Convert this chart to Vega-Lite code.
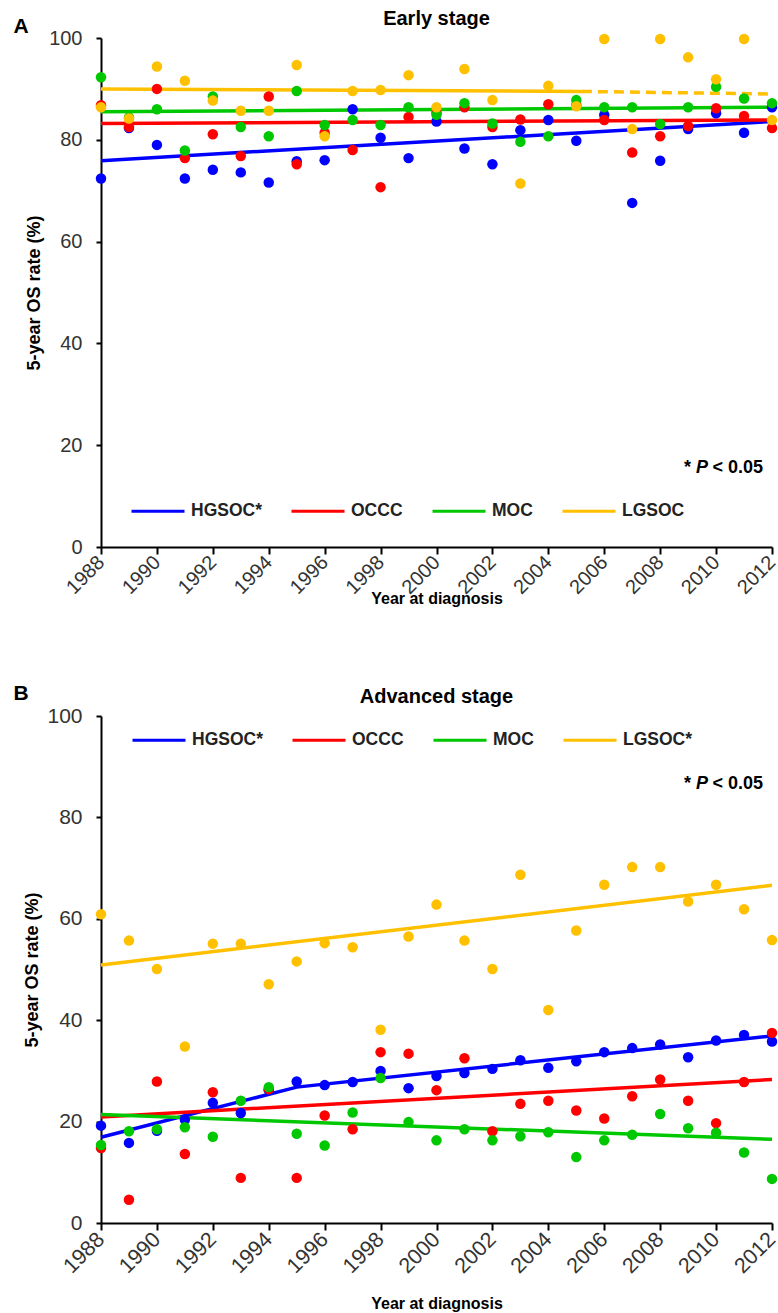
{
  "$schema": "https://vega.github.io/schema/vega-lite/v6.json",
  "background": "white",
  "padding": {"left": 13, "top": 9, "right": 0, "bottom": 0},
  "spacing": 75,
  "config": {
    "font": "Liberation Sans",
    "view": {"stroke": null},
    "axis": {
      "grid": false,
      "domainColor": "black",
      "domainWidth": 2,
      "tickColor": "black",
      "tickWidth": 2,
      "labelColor": "#333",
      "labelFont": "Liberation Sans",
      "labelFontSize": 20,
      "titleFont": "Liberation Sans",
      "titleFontSize": 18,
      "titleFontWeight": "bold",
      "titleColor": "black"
    },
    "title": {"font": "Liberation Sans", "fontSize": 20, "fontWeight": "bold", "color": "black"},
    "legend": {
      "orient": "none",
      "direction": "horizontal",
      "title": null,
      "symbolType": "stroke",
      "symbolSize": 2809,
      "symbolStrokeWidth": 3,
      "labelFont": "Liberation Sans",
      "labelFontSize": 17.5,
      "labelFontWeight": "bold",
      "labelColor": "#222",
      "columnPadding": 23,
      "labelOffset": 5,
      "padding": 0
    }
  },
  "datasets": {
    "ptsA": [
      {"year": 1988, "type": "HGSOC*", "os": 72.4}, {"year": 1989, "type": "HGSOC*", "os": 82.3}, {"year": 1990, "type": "HGSOC*", "os": 79.0}, {"year": 1991, "type": "HGSOC*", "os": 72.4}, {"year": 1992, "type": "HGSOC*", "os": 74.1}, {"year": 1993, "type": "HGSOC*", "os": 73.6}, {"year": 1994, "type": "HGSOC*", "os": 71.6}, {"year": 1995, "type": "HGSOC*", "os": 75.8}, {"year": 1996, "type": "HGSOC*", "os": 76.0}, {"year": 1997, "type": "HGSOC*", "os": 86.0}, {"year": 1998, "type": "HGSOC*", "os": 80.4}, {"year": 1999, "type": "HGSOC*", "os": 76.4}, {"year": 2000, "type": "HGSOC*", "os": 83.6}, {"year": 2001, "type": "HGSOC*", "os": 78.3}, {"year": 2002, "type": "HGSOC*", "os": 75.2}, {"year": 2003, "type": "HGSOC*", "os": 81.9}, {"year": 2004, "type": "HGSOC*", "os": 83.9}, {"year": 2005, "type": "HGSOC*", "os": 79.8}, {"year": 2006, "type": "HGSOC*", "os": 84.9}, {"year": 2007, "type": "HGSOC*", "os": 67.6}, {"year": 2008, "type": "HGSOC*", "os": 75.9}, {"year": 2009, "type": "HGSOC*", "os": 82.1}, {"year": 2010, "type": "HGSOC*", "os": 85.2}, {"year": 2011, "type": "HGSOC*", "os": 81.4}, {"year": 2012, "type": "HGSOC*", "os": 86.4},
      {"year": 1988, "type": "OCCC", "os": 86.8}, {"year": 1989, "type": "OCCC", "os": 82.5}, {"year": 1990, "type": "OCCC", "os": 90.0}, {"year": 1991, "type": "OCCC", "os": 76.4}, {"year": 1992, "type": "OCCC", "os": 81.1}, {"year": 1993, "type": "OCCC", "os": 76.8}, {"year": 1994, "type": "OCCC", "os": 88.5}, {"year": 1995, "type": "OCCC", "os": 75.2}, {"year": 1996, "type": "OCCC", "os": 81.4}, {"year": 1997, "type": "OCCC", "os": 78.0}, {"year": 1998, "type": "OCCC", "os": 70.7}, {"year": 1999, "type": "OCCC", "os": 84.5}, {"year": 2000, "type": "OCCC", "os": 85.3}, {"year": 2001, "type": "OCCC", "os": 86.4}, {"year": 2002, "type": "OCCC", "os": 82.5}, {"year": 2003, "type": "OCCC", "os": 84.0}, {"year": 2004, "type": "OCCC", "os": 87.0}, {"year": 2005, "type": "OCCC", "os": 86.8}, {"year": 2006, "type": "OCCC", "os": 83.9}, {"year": 2007, "type": "OCCC", "os": 77.5}, {"year": 2008, "type": "OCCC", "os": 80.7}, {"year": 2009, "type": "OCCC", "os": 82.7}, {"year": 2010, "type": "OCCC", "os": 86.2}, {"year": 2011, "type": "OCCC", "os": 84.7}, {"year": 2012, "type": "OCCC", "os": 82.3},
      {"year": 1988, "type": "MOC", "os": 92.3}, {"year": 1989, "type": "MOC", "os": 84.4}, {"year": 1990, "type": "MOC", "os": 86.0}, {"year": 1991, "type": "MOC", "os": 77.9}, {"year": 1992, "type": "MOC", "os": 88.5}, {"year": 1993, "type": "MOC", "os": 82.5}, {"year": 1994, "type": "MOC", "os": 80.7}, {"year": 1995, "type": "MOC", "os": 89.6}, {"year": 1996, "type": "MOC", "os": 82.9}, {"year": 1997, "type": "MOC", "os": 83.9}, {"year": 1998, "type": "MOC", "os": 82.9}, {"year": 1999, "type": "MOC", "os": 86.4}, {"year": 2000, "type": "MOC", "os": 84.9}, {"year": 2001, "type": "MOC", "os": 87.2}, {"year": 2002, "type": "MOC", "os": 83.2}, {"year": 2003, "type": "MOC", "os": 79.6}, {"year": 2004, "type": "MOC", "os": 80.7}, {"year": 2005, "type": "MOC", "os": 87.8}, {"year": 2006, "type": "MOC", "os": 86.4}, {"year": 2007, "type": "MOC", "os": 86.4}, {"year": 2008, "type": "MOC", "os": 83.1}, {"year": 2009, "type": "MOC", "os": 86.4}, {"year": 2010, "type": "MOC", "os": 90.4}, {"year": 2011, "type": "MOC", "os": 88.1}, {"year": 2012, "type": "MOC", "os": 87.2},
      {"year": 1988, "type": "LGSOC", "os": 86.4}, {"year": 1989, "type": "LGSOC", "os": 84.2}, {"year": 1990, "type": "LGSOC", "os": 94.4}, {"year": 1991, "type": "LGSOC", "os": 91.6}, {"year": 1992, "type": "LGSOC", "os": 87.7}, {"year": 1993, "type": "LGSOC", "os": 85.7}, {"year": 1994, "type": "LGSOC", "os": 85.7}, {"year": 1995, "type": "LGSOC", "os": 94.7}, {"year": 1996, "type": "LGSOC", "os": 80.7}, {"year": 1997, "type": "LGSOC", "os": 89.6}, {"year": 1998, "type": "LGSOC", "os": 89.8}, {"year": 1999, "type": "LGSOC", "os": 92.7}, {"year": 2000, "type": "LGSOC", "os": 86.4}, {"year": 2001, "type": "LGSOC", "os": 93.9}, {"year": 2002, "type": "LGSOC", "os": 87.8}, {"year": 2003, "type": "LGSOC", "os": 71.4}, {"year": 2004, "type": "LGSOC", "os": 90.6}, {"year": 2005, "type": "LGSOC", "os": 86.6}, {"year": 2006, "type": "LGSOC", "os": 99.8}, {"year": 2007, "type": "LGSOC", "os": 82.1}, {"year": 2008, "type": "LGSOC", "os": 99.8}, {"year": 2009, "type": "LGSOC", "os": 96.2}, {"year": 2010, "type": "LGSOC", "os": 91.9}, {"year": 2011, "type": "LGSOC", "os": 99.8}, {"year": 2012, "type": "LGSOC", "os": 83.9}
    ],
    "linesA": [
      {"year": 1988, "type": "HGSOC*", "os": 75.9}, {"year": 2012, "type": "HGSOC*", "os": 83.6},
      {"year": 1988, "type": "OCCC", "os": 83.2}, {"year": 2012, "type": "OCCC", "os": 83.9},
      {"year": 1988, "type": "MOC", "os": 85.5}, {"year": 2012, "type": "MOC", "os": 86.4},
      {"year": 1988, "type": "LGSOC", "os": 90.0}, {"year": 2005.2, "type": "LGSOC", "os": 89.5}
    ],
    "dashA": [
      {"year": 2005.2, "type": "LGSOC", "os": 89.5}, {"year": 2012, "type": "LGSOC", "os": 89.0}
    ],
    "ptsB": [
      {"year": 1988, "type": "HGSOC*", "os": 19.2}, {"year": 1989, "type": "HGSOC*", "os": 15.8}, {"year": 1990, "type": "HGSOC*", "os": 18.2}, {"year": 1991, "type": "HGSOC*", "os": 20.4}, {"year": 1992, "type": "HGSOC*", "os": 23.7}, {"year": 1993, "type": "HGSOC*", "os": 21.7}, {"year": 1994, "type": "HGSOC*", "os": 26.2}, {"year": 1995, "type": "HGSOC*", "os": 27.9}, {"year": 1996, "type": "HGSOC*", "os": 27.2}, {"year": 1997, "type": "HGSOC*", "os": 27.8}, {"year": 1998, "type": "HGSOC*", "os": 30.0}, {"year": 1999, "type": "HGSOC*", "os": 26.6}, {"year": 2000, "type": "HGSOC*", "os": 29.0}, {"year": 2001, "type": "HGSOC*", "os": 29.6}, {"year": 2002, "type": "HGSOC*", "os": 30.4}, {"year": 2003, "type": "HGSOC*", "os": 32.1}, {"year": 2004, "type": "HGSOC*", "os": 30.6}, {"year": 2005, "type": "HGSOC*", "os": 31.9}, {"year": 2006, "type": "HGSOC*", "os": 33.7}, {"year": 2007, "type": "HGSOC*", "os": 34.5}, {"year": 2008, "type": "HGSOC*", "os": 35.2}, {"year": 2009, "type": "HGSOC*", "os": 32.7}, {"year": 2010, "type": "HGSOC*", "os": 36.0}, {"year": 2011, "type": "HGSOC*", "os": 37.1}, {"year": 2012, "type": "HGSOC*", "os": 35.8},
      {"year": 1988, "type": "OCCC", "os": 14.8}, {"year": 1989, "type": "OCCC", "os": 4.6}, {"year": 1990, "type": "OCCC", "os": 27.9}, {"year": 1991, "type": "OCCC", "os": 13.6}, {"year": 1992, "type": "OCCC", "os": 25.8}, {"year": 1993, "type": "OCCC", "os": 8.9}, {"year": 1994, "type": "OCCC", "os": 26.4}, {"year": 1995, "type": "OCCC", "os": 8.9}, {"year": 1996, "type": "OCCC", "os": 21.2}, {"year": 1997, "type": "OCCC", "os": 18.5}, {"year": 1998, "type": "OCCC", "os": 33.7}, {"year": 1999, "type": "OCCC", "os": 33.4}, {"year": 2000, "type": "OCCC", "os": 26.2}, {"year": 2001, "type": "OCCC", "os": 32.5}, {"year": 2002, "type": "OCCC", "os": 18.1}, {"year": 2003, "type": "OCCC", "os": 23.5}, {"year": 2004, "type": "OCCC", "os": 24.1}, {"year": 2005, "type": "OCCC", "os": 22.2}, {"year": 2006, "type": "OCCC", "os": 20.6}, {"year": 2007, "type": "OCCC", "os": 25.0}, {"year": 2008, "type": "OCCC", "os": 28.3}, {"year": 2009, "type": "OCCC", "os": 24.1}, {"year": 2010, "type": "OCCC", "os": 19.7}, {"year": 2011, "type": "OCCC", "os": 27.8}, {"year": 2012, "type": "OCCC", "os": 37.5},
      {"year": 1988, "type": "MOC", "os": 15.4}, {"year": 1989, "type": "MOC", "os": 18.1}, {"year": 1990, "type": "MOC", "os": 18.5}, {"year": 1991, "type": "MOC", "os": 18.9}, {"year": 1992, "type": "MOC", "os": 17.0}, {"year": 1993, "type": "MOC", "os": 24.1}, {"year": 1994, "type": "MOC", "os": 26.8}, {"year": 1995, "type": "MOC", "os": 17.6}, {"year": 1996, "type": "MOC", "os": 15.3}, {"year": 1997, "type": "MOC", "os": 21.8}, {"year": 1998, "type": "MOC", "os": 28.6}, {"year": 1999, "type": "MOC", "os": 19.9}, {"year": 2000, "type": "MOC", "os": 16.3}, {"year": 2001, "type": "MOC", "os": 18.5}, {"year": 2002, "type": "MOC", "os": 16.3}, {"year": 2003, "type": "MOC", "os": 17.1}, {"year": 2004, "type": "MOC", "os": 17.9}, {"year": 2005, "type": "MOC", "os": 13.0}, {"year": 2006, "type": "MOC", "os": 16.3}, {"year": 2007, "type": "MOC", "os": 17.4}, {"year": 2008, "type": "MOC", "os": 21.5}, {"year": 2009, "type": "MOC", "os": 18.7}, {"year": 2010, "type": "MOC", "os": 17.8}, {"year": 2011, "type": "MOC", "os": 13.9}, {"year": 2012, "type": "MOC", "os": 8.7},
      {"year": 1988, "type": "LGSOC*", "os": 60.9}, {"year": 1989, "type": "LGSOC*", "os": 55.7}, {"year": 1990, "type": "LGSOC*", "os": 50.1}, {"year": 1991, "type": "LGSOC*", "os": 34.8}, {"year": 1992, "type": "LGSOC*", "os": 55.1}, {"year": 1993, "type": "LGSOC*", "os": 55.1}, {"year": 1994, "type": "LGSOC*", "os": 47.1}, {"year": 1995, "type": "LGSOC*", "os": 51.6}, {"year": 1996, "type": "LGSOC*", "os": 55.2}, {"year": 1997, "type": "LGSOC*", "os": 54.4}, {"year": 1998, "type": "LGSOC*", "os": 38.1}, {"year": 1999, "type": "LGSOC*", "os": 56.5}, {"year": 2000, "type": "LGSOC*", "os": 62.8}, {"year": 2001, "type": "LGSOC*", "os": 55.7}, {"year": 2002, "type": "LGSOC*", "os": 50.1}, {"year": 2003, "type": "LGSOC*", "os": 68.7}, {"year": 2004, "type": "LGSOC*", "os": 42.0}, {"year": 2005, "type": "LGSOC*", "os": 57.7}, {"year": 2006, "type": "LGSOC*", "os": 66.7}, {"year": 2007, "type": "LGSOC*", "os": 70.2}, {"year": 2008, "type": "LGSOC*", "os": 70.2}, {"year": 2009, "type": "LGSOC*", "os": 63.4}, {"year": 2010, "type": "LGSOC*", "os": 66.7}, {"year": 2011, "type": "LGSOC*", "os": 61.9}, {"year": 2012, "type": "LGSOC*", "os": 55.8}
    ],
    "linesB": [
      {"year": 1988, "type": "HGSOC*", "os": 16.9}, {"year": 1995, "type": "HGSOC*", "os": 26.8}, {"year": 2012, "type": "HGSOC*", "os": 36.9},
      {"year": 1988, "type": "OCCC", "os": 20.9}, {"year": 2012, "type": "OCCC", "os": 28.3},
      {"year": 1988, "type": "MOC", "os": 21.4}, {"year": 2012, "type": "MOC", "os": 16.5},
      {"year": 1988, "type": "LGSOC*", "os": 50.9}, {"year": 2012, "type": "LGSOC*", "os": 66.6}
    ]
  },
  "resolve": {"scale": {"color": "independent"}, "legend": {"color": "independent"}},
  "vconcat": [
    {
      "width": 671,
      "height": 509,
      "title": {"text": "Early stage", "offset": -13},
      "layer": [
        {
          "data": {"name": "linesA"},
          "mark": {"type": "line", "strokeWidth": 3.5},
          "encoding": {
            "x": {"field": "year", "type": "quantitative", "scale": {"domain": [1988, 2012], "nice": false, "zero": false},
                  "axis": {"title": "Year at diagnosis", "values": [1988, 1990, 1992, 1994, 1996, 1998, 2000, 2002, 2004, 2006, 2008, 2010, 2012], "format": "d", "labelAngle": -45, "labelAlign": "right", "labelBaseline": "middle", "tickSize": 7, "labelPadding": 5, "titlePadding": -7, "titleFontSize": 16, "labelFlush": false, "labelOverlap": false}},
            "y": {"field": "os", "type": "quantitative", "scale": {"domain": [0, 100], "nice": false},
                  "axis": {"title": "5-year OS rate (%)", "values": [0, 20, 40, 60, 80, 100], "tickSize": 5, "labelPadding": 14, "titlePadding": 5, "labelFlush": false}},
            "color": {"field": "type", "type": "nominal",
                      "scale": {"domain": ["HGSOC*", "OCCC", "MOC", "LGSOC"], "range": ["#0000FF", "#FF0000", "#00C800", "#FFC000"]},
                      "legend": {"legendX": 29, "legendY": 445}}
          }
        },
        {
          "data": {"name": "dashA"},
          "mark": {"type": "line", "strokeWidth": 3.5, "strokeDash": [10, 6]},
          "encoding": {
            "x": {"field": "year", "type": "quantitative"},
            "y": {"field": "os", "type": "quantitative"},
            "color": {"field": "type", "type": "nominal", "legend": null}
          }
        },
        {
          "data": {"name": "ptsA"},
          "mark": {"type": "circle", "size": 110, "opacity": 1},
          "encoding": {
            "x": {"field": "year", "type": "quantitative"},
            "y": {"field": "os", "type": "quantitative"},
            "color": {"field": "type", "type": "nominal", "legend": null}
          }
        },
        {
          "data": {"values": [{}]},
          "mark": {"type": "text", "text": "< 0.05", "align": "right", "baseline": "middle", "fontSize": 18, "fontWeight": "bold", "color": "black"},
          "encoding": {"x": {"datum": 2011.68, "type": "quantitative"}, "y": {"datum": 15.5, "type": "quantitative"}}
        },
        {
          "data": {"values": [{}]},
          "mark": {"type": "text", "text": "P", "align": "right", "baseline": "middle", "fontSize": 18, "fontWeight": "bold", "fontStyle": "italic", "color": "black", "dx": -55},
          "encoding": {"x": {"datum": 2011.68, "type": "quantitative"}, "y": {"datum": 15.5, "type": "quantitative"}}
        },
        {
          "data": {"values": [{}]},
          "mark": {"type": "text", "text": "*", "align": "right", "baseline": "middle", "fontSize": 18, "fontWeight": "bold", "color": "black", "dx": -72},
          "encoding": {"x": {"datum": 2011.68, "type": "quantitative"}, "y": {"datum": 15.5, "type": "quantitative"}}
        },
        {
          "data": {"values": [{}]},
          "mark": {"type": "text", "text": "A", "align": "center", "baseline": "middle", "fontSize": 21, "fontWeight": "bold", "color": "black"},
          "encoding": {"x": {"datum": 1985.14, "type": "quantitative"}, "y": {"datum": 102.1, "type": "quantitative"}}
        }
      ]
    },
    {
      "width": 671,
      "height": 507,
      "title": {"text": "Advanced stage", "offset": -24.6},
      "layer": [
        {
          "data": {"name": "linesB"},
          "mark": {"type": "line", "strokeWidth": 3.5},
          "encoding": {
            "x": {"field": "year", "type": "quantitative", "scale": {"domain": [1988, 2012], "nice": false, "zero": false},
                  "axis": {"title": "Year at diagnosis", "values": [1988, 1990, 1992, 1994, 1996, 1998, 2000, 2002, 2004, 2006, 2008, 2010, 2012], "format": "d", "labelAngle": -45, "labelAlign": "right", "labelBaseline": "middle", "labelFontSize": 21.5, "tickSize": 7, "labelPadding": 6, "titlePadding": 18, "titleFontSize": 16, "labelFlush": false, "labelOverlap": false}},
            "y": {"field": "os", "type": "quantitative", "scale": {"domain": [0, 100], "nice": false},
                  "axis": {"title": "5-year OS rate (%)", "values": [0, 20, 40, 60, 80, 100], "labelFontSize": 21, "tickSize": 5, "labelPadding": 14, "titlePadding": 5, "labelFlush": false}},
            "color": {"field": "type", "type": "nominal",
                      "scale": {"domain": ["HGSOC*", "OCCC", "MOC", "LGSOC*"], "range": ["#0000FF", "#FF0000", "#00C800", "#FFC000"]},
                      "legend": {"legendX": 30, "legendY": -4}}
          }
        },
        {
          "data": {"name": "ptsB"},
          "mark": {"type": "circle", "size": 110, "opacity": 1},
          "encoding": {
            "x": {"field": "year", "type": "quantitative"},
            "y": {"field": "os", "type": "quantitative"},
            "color": {"field": "type", "type": "nominal", "legend": null}
          }
        },
        {
          "data": {"values": [{}]},
          "mark": {"type": "text", "text": "< 0.05", "align": "right", "baseline": "middle", "fontSize": 18, "fontWeight": "bold", "color": "black"},
          "encoding": {"x": {"datum": 2011.68, "type": "quantitative"}, "y": {"datum": 86.6, "type": "quantitative"}}
        },
        {
          "data": {"values": [{}]},
          "mark": {"type": "text", "text": "P", "align": "right", "baseline": "middle", "fontSize": 18, "fontWeight": "bold", "fontStyle": "italic", "color": "black", "dx": -55},
          "encoding": {"x": {"datum": 2011.68, "type": "quantitative"}, "y": {"datum": 86.6, "type": "quantitative"}}
        },
        {
          "data": {"values": [{}]},
          "mark": {"type": "text", "text": "*", "align": "right", "baseline": "middle", "fontSize": 18, "fontWeight": "bold", "color": "black", "dx": -72},
          "encoding": {"x": {"datum": 2011.68, "type": "quantitative"}, "y": {"datum": 86.6, "type": "quantitative"}}
        },
        {
          "data": {"values": [{}]},
          "mark": {"type": "text", "text": "B", "align": "center", "baseline": "middle", "fontSize": 21, "fontWeight": "bold", "color": "black"},
          "encoding": {"x": {"datum": 1985.14, "type": "quantitative"}, "y": {"datum": 104.4, "type": "quantitative"}}
        }
      ]
    }
  ]
}
